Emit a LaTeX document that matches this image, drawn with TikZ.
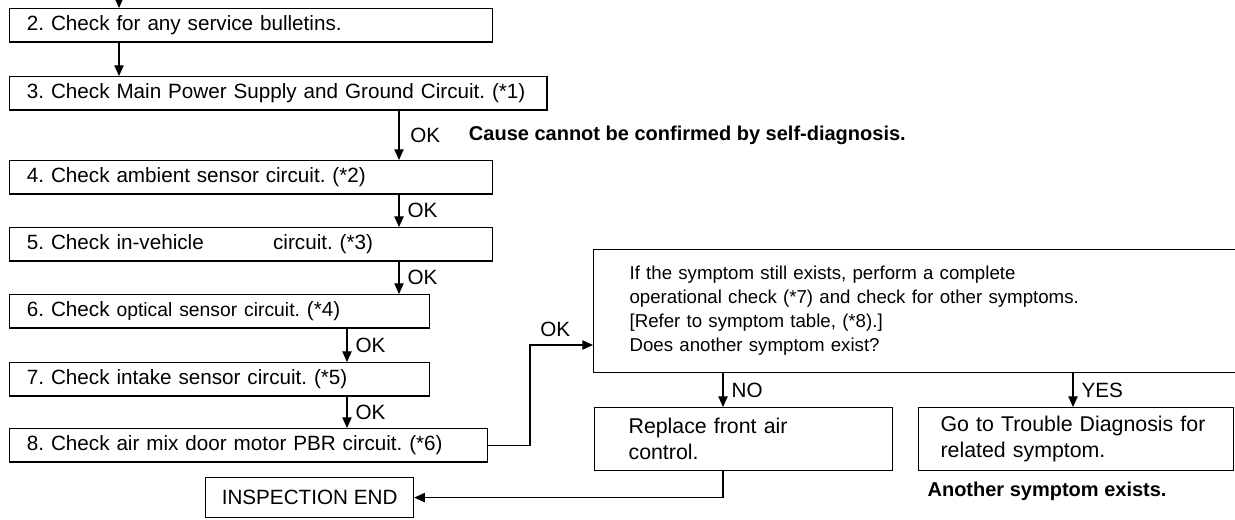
\documentclass[tikz,border=0pt]{standalone}
\usepackage{fontspec}
\setmainfont{Liberation Sans}
\usetikzlibrary{arrows.meta,positioning}
\frenchspacing

\begin{document}
\begin{tikzpicture}[x=0.75pt, y=-0.75pt,
  font=\fontsize{15.5}{19}\selectfont,
  stepbox/.style={draw, line width=0.9pt, anchor=north west, minimum height=25pt, inner xsep=13pt, inner ysep=0pt, align=left},
  arr/.style={-{Triangle[length=8pt, width=7pt]}, line width=0.9pt},
  lbl/.style={inner sep=0pt},
  note/.style={inner sep=0pt, font=\fontsize{15}{18}\selectfont\bfseries}
]
\useasboundingbox (0,0) rectangle (1235,519);
\clip (0,0) rectangle (1235,519);
% columns of the connectors
\coordinate (in) at (119,0);
\coordinate (c2) at (399,0);
\coordinate (c3) at (347,0);
\coordinate (cn) at (723,0);
\coordinate (cy) at (1073,0);
\coordinate (k) at (530,345);
% check steps
\node[stepbox, text width=336.25pt] (s2) at (9,8) {2. Check for any service bulletins.};
\node[stepbox, text width=377pt] (s3) at (9,76) {3. Check Main Power Supply and Ground Circuit. (*1)};
\node[stepbox, text width=336.25pt] (s4) at (9,160) {4. Check ambient sensor circuit. (*2)};
\node[stepbox, text width=336.25pt] (s5) at (9,227) {5. Check in-vehicle\hspace{52pt}circuit. (*3)};
\node[stepbox, text width=289pt] (s6) at (9,294) {6. Check {\fontsize{14.5}{19}\selectfont optical sensor circuit.} (*4)};
\node[stepbox, text width=289pt] (s7) at (9,362) {7. Check intake sensor circuit. (*5)};
\node[stepbox, text width=332.5pt] (s8) at (9,428) {8. Check air mix door motor PBR circuit. (*6)};
\node[draw, line width=0.9pt, anchor=north west, minimum width=156pt, minimum height=30pt, inner sep=0pt] (end) at (205,477) {INSPECTION END};
% decision part
\node[stepbox, minimum height=92.25pt, inner xsep=27pt, text width=431.25pt, font=\fontsize{14}{18}\selectfont] (q) at (593,249)
  {If the symptom still exists, perform a complete\\operational check (*7) and check for other symptoms.\\{[}Refer to symptom table, (*8).{]}\\Does another symptom exist?};
\node[stepbox, minimum height=47.25pt, inner xsep=25.5pt, text width=172.5pt, font=\fontsize{16}{19.5}\selectfont] (rep) at (594,407) {Replace front air\\control.};
\node[stepbox, minimum height=47.25pt, inner xsep=16.5pt, text width=203.25pt, font=\fontsize{16}{19.5}\selectfont] (yes) at (918,407) {Go to Trouble Diagnosis for\\related symptom.};
% connectors
\draw[arr] (in) -- (in |- s2.north);
\draw[arr] (s2.south -| in) -- (in |- s3.north);
\draw[arr] (s3.south -| c2) -- node[lbl, right=8pt] (ok1) {OK} (s4.north -| c2);
\node[note, right=21pt of ok1] (cause) {Cause cannot be confirmed by self-diagnosis.};
\draw[arr] (s4.south -| c2) -- node[lbl, right=6pt] {OK} (s5.north -| c2);
\draw[arr] (s5.south -| c2) -- node[lbl, right=6pt] {OK} (s6.north -| c2);
\draw[arr] (s6.south -| c3) -- node[lbl, right=6pt] {OK} (s7.north -| c3);
\draw[arr] (s7.south -| c3) -- node[lbl, right=6pt] {OK} (s8.north -| c3);
\draw[arr] (s8.east) -| (k) -- node[lbl, above=6pt, pos=0.4] {OK} (k -| q.west);
\draw[arr] (q.south -| cn) -- node[lbl, right=6pt] {NO} (rep.north -| cn);
\draw[arr] (q.south -| cy) -- node[lbl, right=6pt] {YES} (yes.north -| cy);
\draw[arr] (rep.south -| cn) |- (end.east);
\node[note, below right=8pt and 7pt of yes.south west] (more) {Another symptom exists.};
\end{tikzpicture}
\end{document}
